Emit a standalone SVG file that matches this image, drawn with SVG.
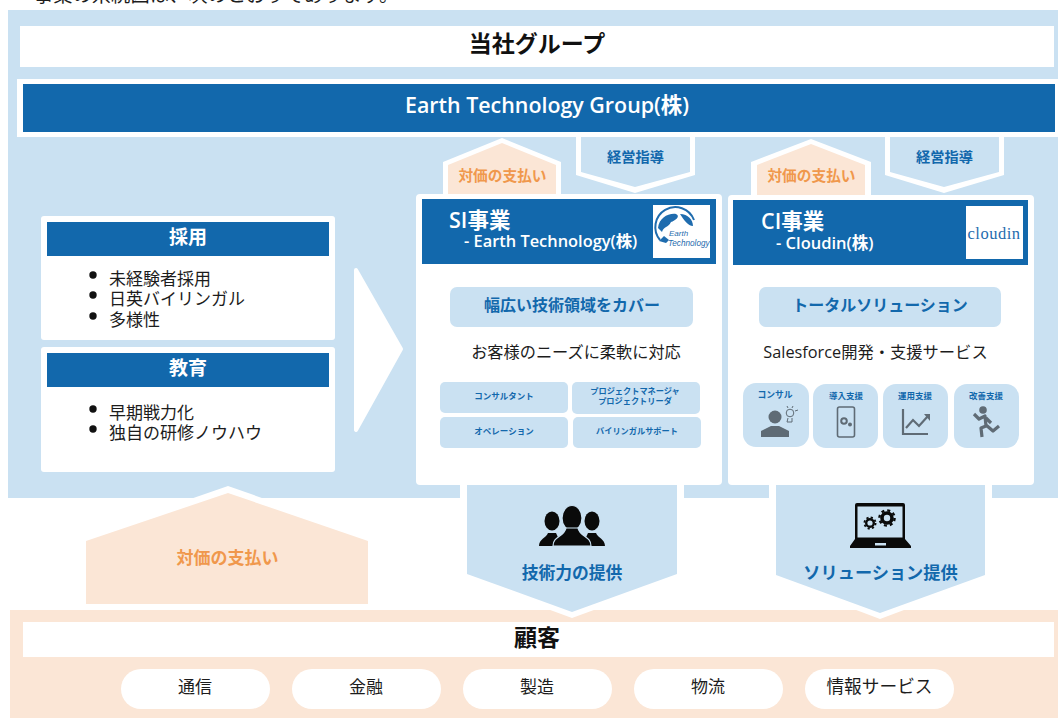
<svg xmlns="http://www.w3.org/2000/svg" width="1058" height="718" viewBox="0 0 1058 718">
<style>
text{font-family:"Noto Sans CJK JP","Noto Sans",sans-serif;text-anchor:middle}
.b{font-weight:700;fill:#1268ac}
.w{font-weight:700;fill:#fff}
.k{fill:#1c1c1c}
.o{font-weight:700;fill:#f0984c}
.lb{fill:#cae1f2}
.pe{fill:#fbe6d6}
.blue{fill:#1268ac}
.wh{fill:#fff}
.ic{fill:#5f6b75}
.pill{fill:#fff}
.l{text-anchor:start}
.lat{font-family:"Open Sans","Noto Sans CJK JP",sans-serif;font-weight:600}
</style>
<rect width="1058" height="718" fill="#fff"/>
<text class="k l" x="34" y="2" font-size="19.300">事業の系統図は、次のとおりであります。</text>
<rect id="bg" class="lb" x="8" y="10" width="1050" height="488"/>
<g id="group-title"><rect class="wh" x="20" y="26" width="1034" height="41"/><text x="537" y="52" font-size="23" font-weight="700" fill="#111">当社グループ</text></g>
<g id="etg"><rect class="wh" x="17" y="79" width="1041" height="58"/><rect class="blue" x="23" y="84" width="1032" height="48"/><text class="w lat" x="547" y="113" font-size="21.400">Earth Technology Group(株)</text></g>
<g id="connectors">
<path class="wh" d="M443 200V162L502 138L561 162V200Z"/><path class="pe" d="M448 196V165L502 143L556 165V196Z"/>
<text class="o" x="502.500" y="181" font-size="14.700">対価の支払い</text>
<path class="wh" d="M576 137H695V175L635 193L576 175Z"/><path class="lb" d="M581 137H690V172L635 187L581 172Z"/>
<text class="b" x="635.500" y="162" font-size="14.200">経営指導</text>
<path class="wh" d="M751 200V162L811 139L871 162V200Z"/><path class="pe" d="M757 196V165L811 144L865 165V196Z"/>
<text class="o" x="811.500" y="181" font-size="14.700">対価の支払い</text>
<path class="wh" d="M885 137H1004V175L944 193L885 175Z"/><path class="lb" d="M890 137H999V172L944 187L890 172Z"/>
<text class="b" x="944.500" y="162" font-size="14.200">経営指導</text>
<path class="wh" stroke="#fff" stroke-width="4" stroke-linejoin="round" d="M356 270L401 349L356 430Z"/>
<path class="wh" d="M78 610V538L228 486L376 538V610Z"/>
<path class="pe" d="M86 604V541L228 493L368 541V604Z"/>
<text class="o" x="227.500" y="564" font-size="17">対価の支払い</text>
</g>
<g id="customer"><rect class="pe" x="10" y="610" width="1048" height="108"/>
<rect class="wh" x="23" y="622" width="1031" height="35"/><text x="537" y="646" font-size="23" font-weight="700" fill="#111">顧客</text>
<g id="c1"><rect class="pill" x="121" y="669" width="149" height="40" rx="20"/><text class="k" x="195" y="693" font-size="17">通信</text></g>
<g id="c2"><rect class="pill" x="292" y="669" width="149" height="40" rx="20"/><text class="k" x="366" y="693" font-size="17">金融</text></g>
<g id="c3"><rect class="pill" x="463" y="669" width="149" height="40" rx="20"/><text class="k" x="537" y="693" font-size="17">製造</text></g>
<g id="c4"><rect class="pill" x="634" y="669" width="149" height="40" rx="20"/><text class="k" x="708" y="693" font-size="17">物流</text></g>
<g id="c5"><rect class="pill" x="805" y="669" width="149" height="40" rx="20"/><text class="k" x="879.500" y="693" font-size="17.700">情報サービス</text></g>
</g>
<g id="provide1"><path class="wh" d="M460 484H684V577L572 618L460 577Z"/><path class="lb" d="M467 484H677V574L572 612L467 574Z"/>
<g fill="#0a0a0a"><ellipse cx="552" cy="521" rx="7.500" ry="9.500"/><path d="M539 546C539 539 546 538 548 533H556L562 546Z"/><ellipse cx="592" cy="521" rx="7.500" ry="9.500"/><path d="M605 546C605 539 598 538 596 533H588L582 546Z"/><ellipse cx="572" cy="518" rx="10" ry="12.500" stroke="#cae1f2" stroke-width="1.200"/><path d="M553 546C553 536 564 537 566 528H578C580 537 591 536 591 546Z" stroke="#cae1f2" stroke-width="1.200"/></g>
<text class="b" x="572" y="579" font-size="16.800">技術力の提供</text></g>
<g id="provide2"><path class="wh" d="M769 484H992V577L880 619L769 577Z"/><path class="lb" d="M776 484H985V575L880 613L776 575Z"/>
<path fill="#0a0a0a" d="M855 505a2 2 0 0 1 2-2H903a2 2 0 0 1 2 2V539L911 546V548H850V546L855 539Z"/><rect x="857.500" y="506.500" width="45" height="31" fill="#cae1f2"/><rect x="875" y="543" width="11" height="2.500" fill="#cae1f2"/>
<circle cx="870" cy="523" r="3.800" fill="none" stroke="#0a0a0a" stroke-width="2.400"/><circle cx="870" cy="523" r="5.600" fill="none" stroke="#0a0a0a" stroke-width="1.800" stroke-dasharray="2.200 2.200"/>
<circle cx="887" cy="518" r="5" fill="none" stroke="#0a0a0a" stroke-width="3.600"/><circle cx="887" cy="518" r="7.600" fill="none" stroke="#0a0a0a" stroke-width="2.400" stroke-dasharray="3 2.970"/>
<text class="b" x="880.500" y="579" font-size="17.200">ソリューション提供</text></g>
<g id="recruit"><rect class="wh" x="41" y="216" width="294" height="124" rx="3"/><rect class="blue" x="47" y="222" width="282" height="34"/><text class="w" x="188" y="244" font-size="19">採用</text>
<g font-size="17"><circle cx="93" cy="275" r="3.700" fill="#111"/><circle cx="93" cy="295" r="3.700" fill="#111"/><circle cx="93" cy="316" r="3.700" fill="#111"/>
<text class="k l" x="109" y="285">未経験者採用</text><text class="k l" x="109" y="305">日英バイリンガル</text><text class="k l" x="109" y="326">多様性</text></g></g>
<g id="edu"><rect class="wh" x="41" y="347" width="294" height="125" rx="3"/><rect class="blue" x="47" y="353" width="282" height="34"/><text class="w" x="188" y="375" font-size="19">教育</text>
<g font-size="17"><circle cx="93" cy="409" r="3.700" fill="#111"/><circle cx="93" cy="429" r="3.700" fill="#111"/>
<text class="k l" x="109" y="419">早期戦力化</text><text class="k l" x="109" y="439">独自の研修ノウハウ</text></g></g>
<g id="si"><rect class="wh" x="416" y="194" width="306" height="291" rx="4"/><rect class="blue" x="422" y="199" width="294" height="65"/>
<text class="w l lat" x="449" y="228" font-size="21.500">SI事業</text>
<text class="w l lat" x="464" y="247" font-size="16.400">- Earth Technology(株)</text>
<rect class="wh" x="653" y="205" width="57" height="53"/>
<path d="M660 240A20 20 0 1 1 694 220" fill="none" stroke="#1f6cae" stroke-width="2"/>
<path fill="#1f6cae" d="M658 228C659 218 668 213 676 214C681 216 675 221 671 222C668 228 664 226 662 232ZM680 214C688 214 693 220 693 226C688 226 684 220 680 214ZM659 241L664 236L669 240L666 243Z"/>
<text class="l" x="669" y="236" font-size="8" font-style="italic" fill="#1f6cae" style="font-family:'Liberation Sans',sans-serif">Earth</text><text class="l" x="668" y="246" font-size="8.200" font-style="italic" fill="#1f6cae" style="font-family:'Liberation Sans',sans-serif">Technology</text>
<rect class="lb" x="450" y="287" width="243" height="40" rx="7"/><text class="b" x="572" y="311" font-size="16">幅広い技術領域をカバー</text>
<text class="k" x="576" y="358" font-size="16.200">お客様のニーズに柔軟に対応</text>
<rect class="lb" x="440" y="382" width="128" height="31" rx="5"/><text class="b" x="504" y="399" font-size="8.500">コンサルタント</text>
<rect class="lb" x="572" y="382" width="128" height="32" rx="5"/><text class="b" x="635" y="394" font-size="8.200">プロジェクトマネージャ</text><text class="b" x="635" y="404" font-size="8.200">プロジェクトリーダ</text>
<rect class="lb" x="440" y="417" width="128" height="31" rx="5"/><text class="b" x="504" y="434" font-size="8.500">オペレーション</text>
<rect class="lb" x="573" y="417" width="128" height="31" rx="5"/><text class="b" x="637" y="434" font-size="8.200">バイリンガルサポート</text></g>
<g id="ci"><rect class="wh" x="728" y="195" width="306" height="290" rx="4"/><rect class="blue" x="733" y="200" width="295" height="65"/>
<text class="w l lat" x="761" y="229" font-size="21.500">CI事業</text>
<text class="w l lat" x="776" y="249" font-size="16.500">- Cloudin(株)</text>
<rect class="wh" x="966" y="206" width="57" height="53"/>
<text x="994" y="239" font-size="16.500" letter-spacing=".5" fill="#1f6cae" style="font-family:'Liberation Serif',serif">cloudin</text>
<rect class="lb" x="759" y="287" width="242" height="40" rx="7"/><text class="b" x="880" y="311" font-size="16">トータルソリューション</text>
<text class="k" x="875.500" y="358" font-size="16.300" style="font-family:'Open Sans','Noto Sans CJK JP',sans-serif">Salesforce開発・支援サービス</text>
<rect class="lb" x="743" y="383" width="66" height="64" rx="13"/><text class="b" x="775" y="398" font-size="8.800">コンサル</text>
<circle class="ic" cx="775" cy="417" r="6.500"/><path class="ic" d="M761 437V431L771 426H779L789 431V437Z"/>
<circle cx="790" cy="413" r="3.800" fill="none" stroke="#5f6b75" stroke-width="1"/><path d="M788 418L787 422H792L792 418M787 406L788 408M793 406L792 408M798 410L795 411" fill="none" stroke="#5f6b75" stroke-width="1"/>
<rect class="lb" x="813" y="384" width="65" height="64" rx="13"/><text class="b" x="846" y="399" font-size="8.500">導入支援</text>
<rect x="837.500" y="407" width="17" height="30" rx="2" fill="none" stroke="#5f6b75" stroke-width="1.600"/><circle cx="844" cy="421" r="2.800" fill="none" stroke="#5f6b75" stroke-width="2"/><circle class="ic" cx="850" cy="424.500" r="2"/>
<rect class="lb" x="883" y="384" width="65" height="64" rx="13"/><text class="b" x="915" y="399" font-size="8.500">運用支援</text>
<path d="M903 409V434H928M906 428L913 420L919 426L928 416" fill="none" stroke="#5f6b75" stroke-width="2.200"/><path class="ic" d="M924 414H930V421Z"/>
<rect class="lb" x="954" y="384" width="65" height="64" rx="13"/><text class="b" x="986" y="399" font-size="8.500">改善支援</text>
<circle class="ic" cx="983" cy="410" r="3.800"/><path d="M974 414L979 419L985 416L986 426L981 428L982 437M986 425L993 431L999 426M986 418L991 423" fill="none" stroke="#5f6b75" stroke-width="3.200" stroke-linejoin="round"/></g>
</svg>
